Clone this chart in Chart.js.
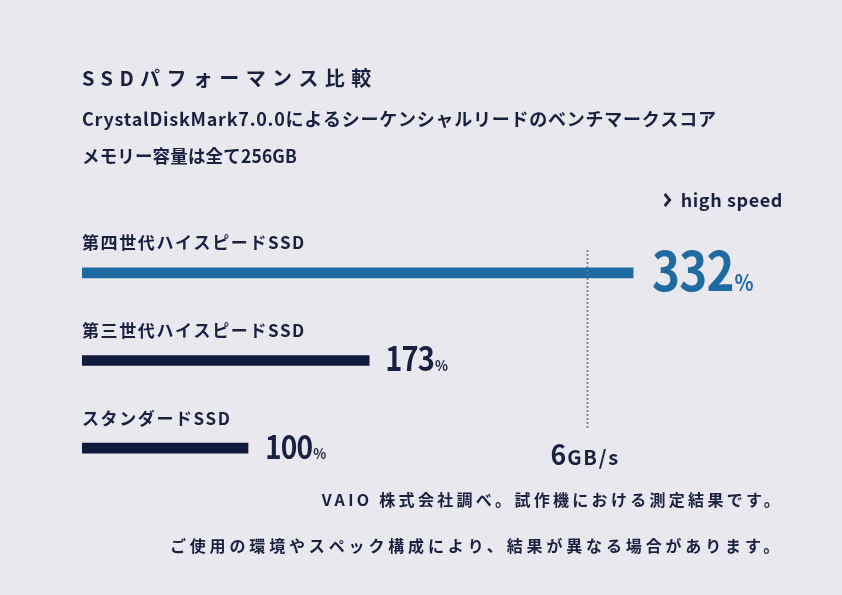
<!DOCTYPE html>
<html lang="ja">
<head>
<meta charset="utf-8">
<title>SSDパフォーマンス比較</title>
<script src="https://cdn.jsdelivr.net/npm/chart.js@4/dist/chart.umd.min.js"></script>
<style>
    html, body { margin: 0; padding: 0; background: #e9e8ee; }
    #wrap { width: 842px; height: 595px; }
</style>
</head>
<body>
<div id="wrap"><canvas id="ssd-chart" width="842" height="595"></canvas></div>
<script>
// Chart data
const categories = ['第四世代ハイスピードSSD', '第三世代ハイスピードSSD', 'スタンダードSSD'];
const scores = [332, 173, 100];
const barColors = ['#1f6aa0', '#121a3b', '#121a3b'];

// 6GB/s reference line, in the same % units as the scores
const referenceValue = 304;
const referenceNumber = '6';
const referenceUnit = 'GB/s';

// Header / footer texts
const titleText = 'SSDパフォーマンス比較';
const subtitleLines = [
    'CrystalDiskMark7.0.0によるシーケンシャルリードのベンチマークスコア',
    'メモリー容量は全て256GB'
];
const highSpeedText = 'high speed';
const footnoteLines = [
    'VAIO 株式会社調べ。試作機における測定結果です。',
    'ご使用の環境やスペック構成により、結果が異なる場合があります。'
];

const TEXT_COLOR = '#1a2140';
const FONT = '"Noto Sans CJK JP", "Noto Sans", sans-serif';

// Small helper for canvas text
function drawText(ctx, text, x, y, opts) {
    ctx.save();
    ctx.font = opts.font;
    ctx.fillStyle = opts.color || TEXT_COLOR;
    ctx.textBaseline = opts.baseline || 'middle';
    ctx.textAlign = opts.align || 'left';
    ctx.letterSpacing = (opts.spacing || 0) + 'px';
    const sx = opts.scaleX || 1;
    ctx.translate(x, y);
    ctx.scale(sx, 1);
    ctx.fillText(text, 0, 0);
    const w = ctx.measureText(text).width * sx;
    ctx.restore();
    return w;
}

// Plugin: headings, labels, values, reference line
const decorations = {
    id: 'decorations',
    afterDatasetsDraw(chart) {
        const ctx = chart.ctx;
        const xScale = chart.scales.x;
        const left = chart.chartArea.left;
        const bars = chart.getDatasetMeta(0).data;

        // Title + subtitles
        drawText(ctx, titleText, left, 78, { font: '600 20px ' + FONT, spacing: 6.4 });
        drawText(ctx, subtitleLines[0], left, 119, { font: '600 18px ' + FONT, spacing: 0.75 });
        drawText(ctx, subtitleLines[1], left, 156, { font: '600 18px ' + FONT, spacing: 0.2, scaleX: 0.97 });

        // high speed marker, with a heavy chevron in front
        const hsW = drawText(ctx, highSpeedText, 783, 200, { font: 'bold 18px ' + FONT, align: 'right', spacing: 0.6 });
        const cx = 783 - hsW - 16;
        ctx.save();
        ctx.strokeStyle = TEXT_COLOR;
        ctx.lineWidth = 2.8;
        ctx.lineJoin = 'miter';
        ctx.beginPath();
        ctx.moveTo(cx, 194);
        ctx.lineTo(cx + 5, 200);
        ctx.lineTo(cx, 206);
        ctx.stroke();
        ctx.restore();

        // Reference line (dotted)
        const rx = Math.round(xScale.getPixelForValue(referenceValue)) + 0.5;
        ctx.save();
        ctx.fillStyle = '#75757d';
        for (let y = 251; y <= 427; y += 4) {
            ctx.beginPath();
            ctx.arc(rx, y, 1.1, 0, Math.PI * 2);
            ctx.fill();
        }
        ctx.restore();
        const nW = drawText(ctx, referenceNumber, rx - 37, 465, { font: 'bold 28px ' + FONT, baseline: 'alphabetic', scaleX: 0.95 });
        drawText(ctx, referenceUnit, rx - 37 + nW + 1, 465, { font: '600 20px ' + FONT, baseline: 'alphabetic', spacing: 1.8 });

        // Category labels and values
        const valueStyle = [
            { size: 54, pct: 22, gap: 19, color: barColors[0] },
            { size: 33, pct: 15, gap: 16, color: TEXT_COLOR },
            { size: 32, pct: 15, gap: 17, color: TEXT_COLOR }
        ];
        bars.forEach((bar, i) => {
            drawText(ctx, categories[i], left, bar.y - 30, { font: '600 17px ' + FONT, spacing: 1.6 });
            const s = valueStyle[i];
            const base = bar.y + s.size * 0.36 - 1;
            const w = drawText(ctx, String(scores[i]), bar.x + s.gap, base, {
                font: 'bold ' + s.size + 'px ' + FONT, baseline: 'alphabetic', color: s.color, scaleX: 0.88, spacing: -1
            });
            drawText(ctx, '%', bar.x + s.gap + w + 1, base, {
                font: 'bold ' + s.pct + 'px ' + FONT, baseline: 'alphabetic', color: s.color, scaleX: 0.9
            });
        });

        // Footnotes, right aligned
        drawText(ctx, footnoteLines[0], 783, 500, { font: '600 16px ' + FONT, align: 'right', spacing: 3.3 });
        drawText(ctx, footnoteLines[1], 783, 546, { font: '600 16px ' + FONT, align: 'right', spacing: 3.85 });
    }
};

const ssdChart = new Chart(document.getElementById('ssd-chart'), {
    type: 'bar',
    data: {
        labels: categories,
        datasets: [{
            data: scores,
            backgroundColor: barColors,
            borderWidth: 0,
            barThickness: 10
        }]
    },
    options: {
        indexAxis: 'y',
        responsive: false,
        animation: false,
        layout: {
            padding: { left: 82, right: 96, top: 229, bottom: 103 }
        },
        scales: {
            x: { min: 0, max: 400, display: false },
            y: { display: false }
        },
        plugins: {
            legend: { display: false },
            tooltip: { enabled: false },
            title: { display: false }
        }
    },
    plugins: [decorations]
});
</script>
</body>
</html>
